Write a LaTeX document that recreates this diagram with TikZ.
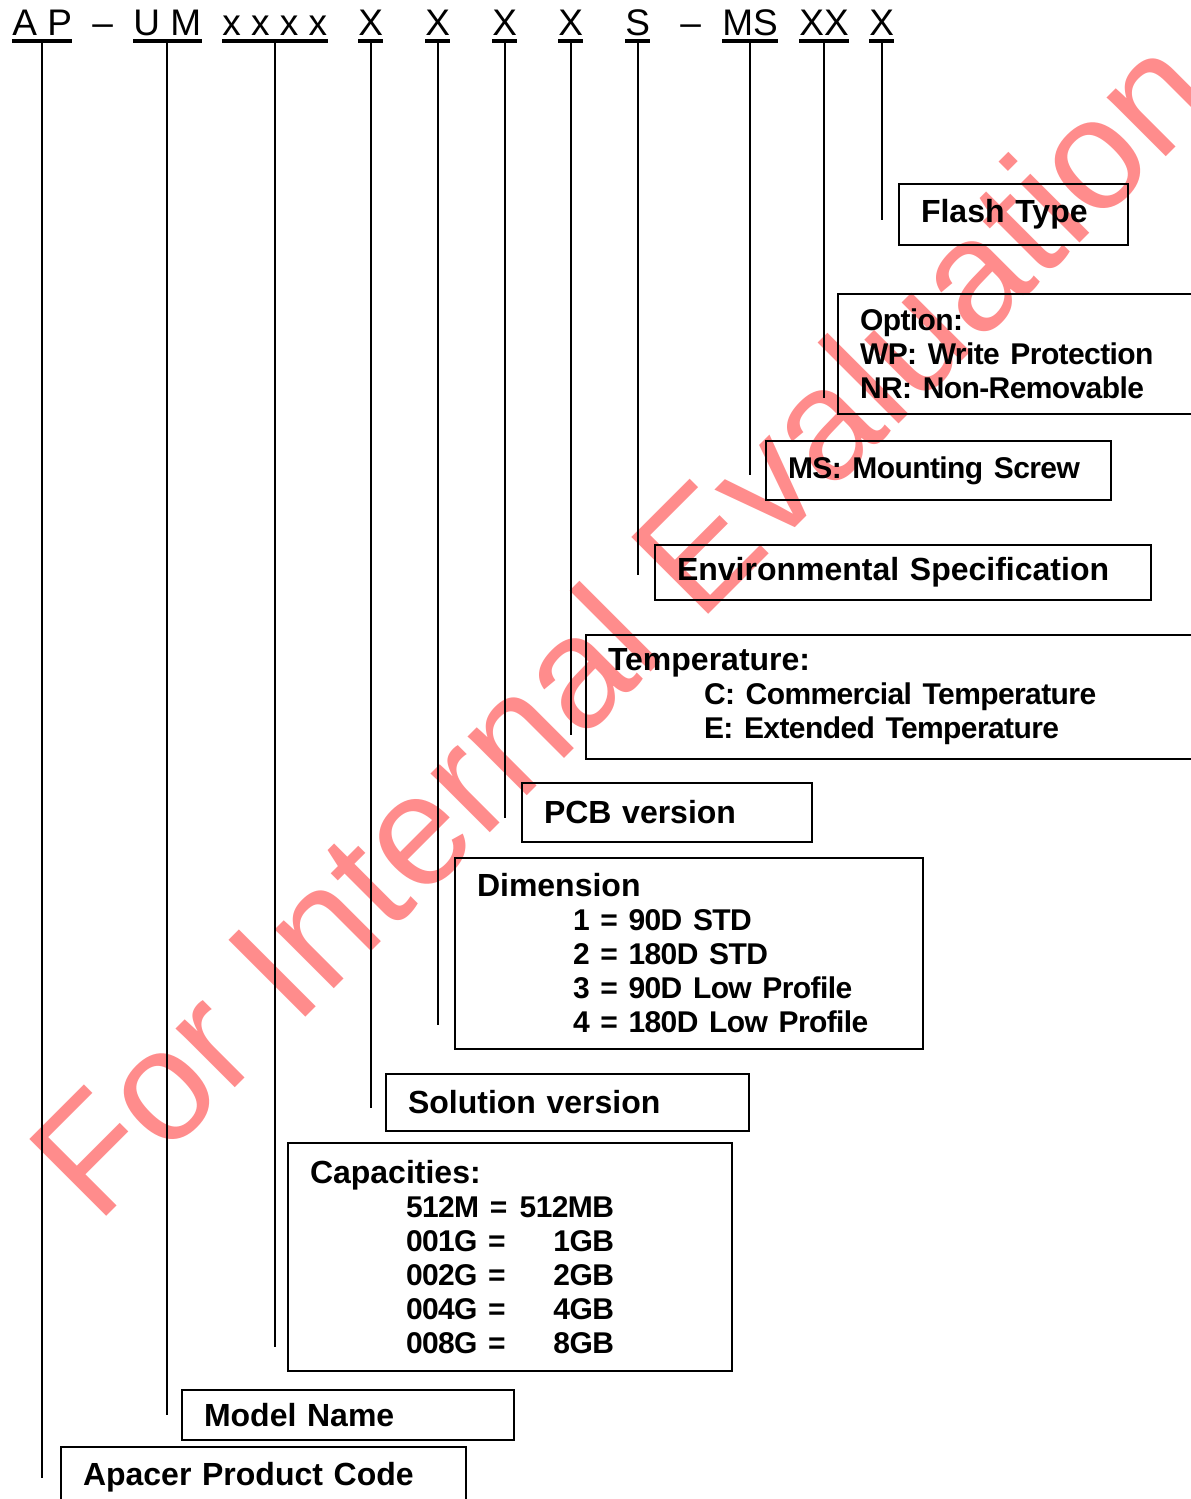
\documentclass[tikz,border=0pt]{standalone}
\usepackage{fontspec}
\setmainfont{Liberation Sans}
\usepackage{tikz}
\usetikzlibrary{positioning}

\newcommand{\tight}{\fontsize{15}{17}\selectfont\addfontfeature{LetterSpace=-2}}
\newcommand{\caprow}[2]{\hspace*{48pt}\makebox[57.5pt][l]{#1}\makebox[46.5pt][r]{#2}}

\tikzset{
  code/.style={anchor=base west, inner xsep=0pt, inner ysep=2.75pt, font=\fontsize{18.5}{20}\selectfont},
  uline/.style={line width=1.8pt},
  link/.style={line width=1pt},
  box/.style={draw, line width=1pt, anchor=north west, align=left, inner xsep=11pt, inner ysep=0pt,
    font=\bfseries\fontsize{16}{17}\selectfont},
  mark wm/.style={rotate=45, anchor=base west, inner sep=0pt, text=red, text opacity=0.45,
    font=\fontsize{79}{90}\selectfont}
}

\begin{document}
\begin{tikzpicture}[x=0.5pt, y=-0.5pt]
  \useasboundingbox (0,0) rectangle (1190,1499);

  % watermark
  \node[mark wm] (wm) at (97,1226) {For Internal Evaluation};

  % part number
  \node[code] (hAP)    at (12,35)  {A P};
  \node[code] (hDashA) at (92,35)  {--};
  \node[code] (hUM)    at (133,35) {U M};
  \node[code] (hModel) at (222,35) {x x x x};
  \node[code] (hSol)   at (358,35) {X};
  \node[code] (hDim)   at (425,35) {X};
  \node[code] (hPCB)   at (492,35) {X};
  \node[code] (hTemp)  at (558,35) {X};
  \node[code] (hEnv)   at (625,35) {S};
  \node[code] (hDashB) at (680,35) {--};
  \node[code] (hMS)    at (722,35) {MS};
  \node[code] (hOpt)   at (799,35) {XX};
  \node[code] (hFlash) at (869,35) {X};

  \foreach \h in {hAP,hUM,hModel,hSol,hDim,hPCB,hTemp,hEnv,hMS,hOpt,hFlash}
    \draw[uline] (\h.south west) -- (\h.south east);

  % boxes
  \node[box, text width=92.5pt, minimum height=30.5pt] (flash) at (898,183) {Flash Type};
  \node[box, text width=162pt, minimum height=60pt] (opt) at (837,293)
    {\tight Option:\\WP: Write Protection\\NR: Non-Removable};
  \node[box, text width=150.5pt, minimum height=29.5pt] (ms) at (765,440) {\tight MS: Mounting Screw};
  \node[box, text width=226pt, minimum height=27.5pt] (env) at (654,544) {Environmental Specification};
  \node[box, text width=288pt, minimum height=62pt] (temp) at (585,634)
    {Temperature:\\\tight\hspace*{48pt}C: Commercial Temperature\\\hspace*{48pt}E: Extended Temperature};
  \node[box, text width=123pt, minimum height=29.5pt] (pcb) at (521,782) {PCB version};
  \node[box, text width=212pt, minimum height=95.5pt] (dim) at (454,857)
    {Dimension\\\tight\hspace*{48pt}1 = 90D STD\\\hspace*{48pt}2 = 180D STD\\
     \hspace*{48pt}3 = 90D Low Profile\\\hspace*{48pt}4 = 180D Low Profile};
  \node[box, text width=159.5pt, minimum height=28.5pt] (sol) at (385,1073) {Solution version};
  \node[box, text width=200pt, minimum height=114pt] (cap) at (287,1142)
    {Capacities:\\\tight\caprow{512M =}{512MB}\\\caprow{001G =}{1GB}\\\caprow{002G =}{2GB}\\
     \caprow{004G =}{4GB}\\\caprow{008G =}{8GB}};
  \node[box, text width=144pt, minimum height=25pt] (model) at (181,1389) {Model Name};
  \node[box, text width=180.5pt, minimum height=30pt] (apacer) at (60,1446) {Apacer Product Code};

  % line ends
  \coordinate (eCode)  at (44,1478);
  \coordinate (eModel) at (166,1415);
  \coordinate (eCap)   at (272,1347);
  \coordinate (eSol)   at (370,1108);
  \coordinate (eDim)   at (437,1025);
  \coordinate (ePCB)   at (505,818);
  \coordinate (eTemp)  at (571,735);
  \coordinate (eEnv)   at (638,575);
  \coordinate (eMS)    at (750,475);
  \coordinate (eOpt)   at (822,398);
  \coordinate (eFlash) at (882,220);

  \draw[link] (hAP.south)    -- (hAP.south |- eCode);
  \draw[link] (hUM.south)    -- (hUM.south |- eModel);
  \draw[link] (hModel.south) -- (hModel.south |- eCap);
  \draw[link] (hSol.south)   -- (hSol.south |- eSol);
  \draw[link] (hDim.south)   -- (hDim.south |- eDim);
  \draw[link] (hPCB.south)   -- (hPCB.south |- ePCB);
  \draw[link] (hTemp.south)  -- (hTemp.south |- eTemp);
  \draw[link] (hEnv.south)   -- (hEnv.south |- eEnv);
  \draw[link] (hMS.south)    -- (hMS.south |- eMS);
  \draw[link] (hOpt.south)   -- (hOpt.south |- eOpt);
  \draw[link] (hFlash.south) -- (hFlash.south |- eFlash);
\end{tikzpicture}
\end{document}
